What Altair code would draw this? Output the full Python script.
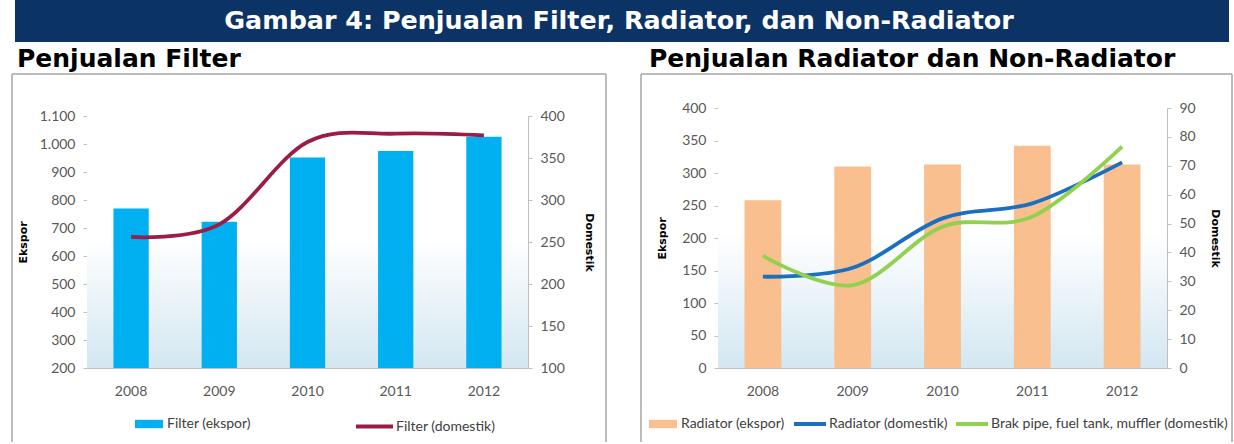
import altair as alt
import pandas as pd

# ---- data -----------------------------------------------------------------
tahun = ["2008", "2009", "2010", "2011", "2012"]

# Penjualan Filter
filter_ekspor = [770, 722, 952, 975, 1026]
filter_domestik = [256, 271, 369, 379, 377]

# Penjualan Radiator dan Non-Radiator
radiator_ekspor = [258, 310, 313, 342, 313]
radiator_domestik = [31.6, 34.7, 51.8, 57.0, 71.2]
non_radiator_domestik = [38.8, 28.7, 48.9, 52.4, 76.6]

seri_filter_ekspor = "Filter (ekspor)"
seri_filter_domestik = "Filter (domestik)"
seri_rad_ekspor = "Radiator (ekspor)"
seri_rad_domestik = "Radiator (domestik)"
seri_non_rad = "Brak pipe, fuel tank, muffler (domestik)"

judul = "Gambar 4: Penjualan Filter, Radiator, dan Non-Radiator"
sub_kiri = "Penjualan Filter"
sub_kanan = "Penjualan Radiator dan Non-Radiator"


def long_table(series):
    rows = []
    for name, values in series:
        for t, v in zip(tahun, values):
            rows.append({"tahun": t, "nilai": v, "seri": name})
    return pd.DataFrame(rows)


# ---- styling --------------------------------------------------------------
H = 260  # both panels share a row; the filter panel's axes start lower
AXIS_LINE = "#bfbfbf"
LABELS = dict(labelFont="Lato", labelFontSize=14, labelColor="#595959")
GRADIENT = alt.LinearGradient(
    gradient="linear", x1=0, x2=0, y1=0, y2=1,
    stops=[alt.GradientStop(color="#ffffff", offset=0),
           alt.GradientStop(color="#ffffff", offset=0.48),
           alt.GradientStop(color="#d3e7f1", offset=1)],
)
BOX = "#a6a6a6"
ONE = alt.Data(values=[{}])


def x_axis():
    return alt.Axis(title=None, ticks=False, labelAngle=0, labelPadding=16,
                    domainColor=AXIS_LINE, **LABELS)


def y_axis(orient, title, values, title_pad, expr=None):
    kw = dict(orient=orient, title=title, values=values, grid=False,
              tickSize=4, tickColor=AXIS_LINE, domainColor=AXIS_LINE,
              labelPadding=8, titleFont="DejaVu Sans", titleFontSize=11,
              titleFontWeight="bold", titleColor="#000000",
              titlePadding=title_pad, **LABELS)
    if expr:
        kw["labelExpr"] = expr
    return alt.Axis(**kw)


def legend(x, y, shape, size, offset, stroke_w=None):
    kw = dict(orient="none", legendX=x, legendY=y, title=None,
              direction="horizontal", symbolType=shape, symbolSize=size,
              labelFont="Lato", labelFontSize=14, labelColor="#404040",
              labelOffset=offset, columnPadding=0, padding=0, labelLimit=400)
    if stroke_w:
        kw["symbolStrokeWidth"] = stroke_w
    return alt.Legend(**kw)


BAR_SHAPE = "M-1,-0.3H1V0.3H-1Z"


def panel(w, top, bar_series, bar_color, line_series, line_colors,
          left_dom, left_ticks, right_dom, right_ticks, left_expr,
          pad_inner, left_tpad, right_tpad,
          bar_leg, line_leg, box, subtitle):
    xscale = alt.Scale(paddingInner=pad_inner, paddingOuter=pad_inner / 2)
    bar_df = long_table([bar_series])
    line_df = long_table(line_series)

    bg = alt.Chart(ONE).mark_rect(color=GRADIENT).encode(
        x=alt.value(0), x2=alt.value(w), y=alt.value(top), y2=alt.value(H))

    bars = alt.Chart(bar_df).mark_bar().encode(
        x=alt.X("tahun:N", sort=tahun, scale=xscale, axis=x_axis()),
        y=alt.Y("nilai:Q",
                scale=alt.Scale(domain=left_dom, range=[H, top], nice=False,
                                zero=False),
                axis=y_axis("left", "Ekspor", left_ticks, left_tpad, left_expr)),
        y2=alt.datum(left_dom[0]),
        color=alt.Color("seri:N",
                        scale=alt.Scale(domain=[bar_series[0]], range=[bar_color]),
                        legend=legend(bar_leg[0], bar_leg[1], BAR_SHAPE,
                                      28 ** 2, 3)),
    )

    lines = alt.Chart(line_df).mark_line(
        interpolate="cardinal", strokeWidth=3.8).encode(
        x=alt.X("tahun:N", sort=tahun, scale=xscale, axis=x_axis()),
        y=alt.Y("nilai:Q",
                scale=alt.Scale(domain=right_dom, range=[H, top], nice=False,
                                zero=False),
                axis=y_axis("right", "Domestik", right_ticks, right_tpad)),
        color=alt.Color("seri:N",
                        scale=alt.Scale(domain=[s[0] for s in line_series],
                                        range=line_colors),
                        legend=legend(line_leg[0], line_leg[1], "stroke",
                                      line_leg[2] ** 2, 1, 4)),
    )

    bx0, bx1, by0, by1 = box
    side_l = alt.Chart(ONE).mark_rule(color=BOX, strokeWidth=1.5).encode(
        x=alt.value(bx0), y=alt.value(by0), y2=alt.value(by1))
    side_r = alt.Chart(ONE).mark_rule(color=BOX, strokeWidth=1.5).encode(
        x=alt.value(bx1), y=alt.value(by0), y2=alt.value(by1))
    side_t = alt.Chart(ONE).mark_rule(color=BOX, strokeWidth=1.5).encode(
        x=alt.value(bx0), x2=alt.value(bx1), y=alt.value(by0))

    txt, tx, ty = subtitle
    sub = alt.Chart(ONE).mark_text(
        text=txt, align="left", baseline="alphabetic", font="DejaVu Sans",
        fontWeight="bold", fontSize=25, color="#000000").encode(
        x=alt.value(tx), y=alt.value(ty))

    return alt.layer(bg, bars, lines, side_l, side_r, side_t, sub).resolve_scale(
        y="independent", color="independent").properties(width=w, height=H)


kiri = panel(
    441, 8,
    (seri_filter_ekspor, filter_ekspor), "#00b0f0",
    [(seri_filter_domestik, filter_domestik)], ["#9b1c47"],
    [200, 1100], list(range(200, 1101, 100)),
    [100, 400], list(range(100, 401, 50)),
    "replace(format(datum.value, ','), ',', '.')",
    0.6, 11, 19,
    (47, 301), (267, 298, 37),
    (-75, 519, -34, 334), (sub_kiri, -70, -41),
)

kanan = panel(
    449, 0,
    (seri_rad_ekspor, radiator_ekspor), "#f9bf8f",
    [(seri_rad_domestik, radiator_domestik), (seri_non_rad, non_radiator_domestik)],
    ["#1a6fc0", "#92d050"],
    [0, 400], list(range(0, 401, 50)),
    [0, 90], list(range(0, 91, 10)),
    None,
    0.59, 14, 14,
    (-70, 301), (74, 298, 32),
    (-77, 514, -34, 334), (sub_kanan, -69, -41),
)

# banner sits in a column aligned to the left plot's origin, hence the
# negative start
banner = alt.layer(
    alt.Chart(ONE).mark_rect(color="#0b3366").encode(
        x=alt.value(-72), x2=alt.value(1142), y=alt.value(0), y2=alt.value(42)),
    alt.Chart(ONE).mark_text(
        text=judul, font="DejaVu Sans", fontWeight="bold", fontSize=25.4,
        color="#ffffff", align="center", baseline="middle").encode(
        x=alt.value(532), y=alt.value(21)),
).properties(width=600, height=42)

chart = alt.vconcat(
    banner,
    alt.hconcat(kiri, kanan, spacing=33),
    spacing=5,
).properties(
    padding={"left": 11, "right": 0, "top": 0, "bottom": 0},
    background="#ffffff",
).configure_view(stroke=None)

chart.save("out.html", embed_options={"renderer": "svg", "actions": False})
